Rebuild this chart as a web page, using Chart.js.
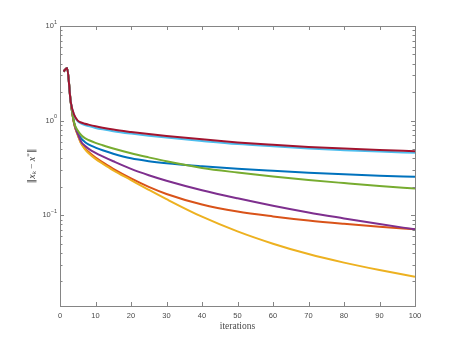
<!DOCTYPE html>
<html>
<head>
<meta charset="utf-8">
<style>
html, body { margin: 0; padding: 0; background: #fff; }
</style>
<script src="https://cdn.jsdelivr.net/npm/chart.js@4/dist/chart.umd.min.js"></script>
</head>
<body>
<canvas id="myChart" width="459" height="344"></canvas>
<script>
var iterations = [1, 2, 3, 4, 5, 6, 7, 8, 10, 12, 15, 20, 25, 30, 40, 50, 60, 70, 80, 90, 100];

var seriesBlue   = [3.3, 3.6, 1.6, 0.94, 0.741, 0.646, 0.596, 0.562, 0.519, 0.486, 0.447, 0.400, 0.373, 0.355, 0.330, 0.310, 0.295, 0.282, 0.271, 0.262, 0.255];
var seriesOrange = [3.3, 3.6, 1.6, 0.923, 0.708, 0.575, 0.513, 0.468, 0.407, 0.363, 0.309, 0.245, 0.1995, 0.168, 0.130, 0.1096, 0.0973, 0.0881, 0.0813, 0.0757, 0.071];
var seriesYellow = [3.3, 3.6, 1.6, 0.923, 0.708, 0.569, 0.501, 0.455, 0.394, 0.351, 0.2985, 0.2355, 0.186, 0.148, 0.0966, 0.0676, 0.0501, 0.0389, 0.0316, 0.0264, 0.0224];
var seriesPurple = [3.3, 3.6, 1.6, 0.933, 0.724, 0.596, 0.543, 0.507, 0.457, 0.419, 0.372, 0.309, 0.265, 0.232, 0.184, 0.151, 0.126, 0.107, 0.0927, 0.0807, 0.071];
var seriesGreen  = [3.3, 3.6, 1.6, 0.951, 0.785, 0.700, 0.653, 0.624, 0.582, 0.550, 0.507, 0.452, 0.409, 0.372, 0.316, 0.283, 0.257, 0.236, 0.219, 0.204, 0.192];
var seriesCyan   = [3.3, 3.6, 1.6, 1.14, 0.982, 0.933, 0.899, 0.875, 0.838, 0.809, 0.773, 0.729, 0.693, 0.662, 0.610, 0.566, 0.535, 0.508, 0.488, 0.471, 0.457];
var seriesRed    = [3.3, 3.6, 1.6, 1.15, 1.0, 0.955, 0.929, 0.908, 0.871, 0.841, 0.804, 0.759, 0.721, 0.689, 0.634, 0.589, 0.556, 0.528, 0.507, 0.490, 0.476];

var xTicks = [0, 10, 20, 30, 40, 50, 60, 70, 80, 90, 100];
var yTickExponents = [-1, 0, 1];

var axisColor = '#858585';
var textColor = '#4a4a4a';
var serif = '"Liberation Serif", "DejaVu Serif", serif';

function pts(vals) {
    return vals.map(function (v, i) { return { x: iterations[i], y: v }; });
}

function line(color, vals) {
    return {
        data: pts(vals),
        borderColor: color,
        backgroundColor: color,
        borderWidth: 2,
        pointRadius: 0,
        fill: false,
        cubicInterpolationMode: 'monotone'
    };
}

// draws pieces of text one after another, centred on 0,0
function drawPieces(ctx, pieces) {
    var total = 0;
    pieces.forEach(function (p) { ctx.font = p.f; p.w = ctx.measureText(p.t).width; total += p.w; });
    var x = -total / 2;
    ctx.textAlign = 'left';
    pieces.forEach(function (p) {
        ctx.font = p.f;
        ctx.fillText(p.t, x, p.dy || 0);
        x += p.w;
    });
}

// box, inward ticks, y labels with superscripts and axis titles
var axesBox = {
    id: 'axesBox',
    afterDraw: function (chart) {
        var ctx = chart.ctx, a = chart.chartArea;
        var xs = chart.scales.x, ys = chart.scales.y;
        ctx.save();
        ctx.strokeStyle = axisColor;
        ctx.lineWidth = 1;
        ctx.strokeRect(Math.round(a.left) + 0.5, Math.round(a.top) + 0.5,
            Math.round(a.right - a.left), Math.round(a.bottom - a.top));

        ctx.beginPath();
        xTicks.forEach(function (v) {
            var px = Math.round(xs.getPixelForValue(v)) + 0.5;
            ctx.moveTo(px, a.bottom); ctx.lineTo(px, a.bottom - 4);
            ctx.moveTo(px, a.top); ctx.lineTo(px, a.top + 4);
        });
        for (var e = -2; e <= 1; e++) {
            for (var m = 1; m <= 9; m++) {
                var v = m * Math.pow(10, e);
                if (v < ys.min || v > ys.max) continue;
                var py = Math.round(ys.getPixelForValue(v)) + 0.5;
                var len = m === 1 ? 4 : 2.5;
                ctx.moveTo(a.left, py); ctx.lineTo(a.left + len, py);
                ctx.moveTo(a.right, py); ctx.lineTo(a.right - len, py);
            }
        }
        ctx.stroke();

        ctx.fillStyle = textColor;
        ctx.textBaseline = 'middle';
        yTickExponents.forEach(function (ex) {
            var py = ys.getPixelForValue(Math.pow(10, ex));
            var sup = String(ex).replace('-', '\u2212');
            ctx.font = '5.5px "Liberation Sans", Arial, sans-serif';
            var sw = ctx.measureText(sup).width;
            ctx.textAlign = 'left';
            ctx.fillText(sup, a.left - 3 - sw, py - 4);
            ctx.font = '7.5px "Liberation Sans", Arial, sans-serif';
            ctx.textAlign = 'right';
            ctx.fillText('10', a.left - 3 - sw, py);
        });

        ctx.font = '9.5px ' + serif;
        ctx.textAlign = 'center';
        ctx.fillText('iterations', (a.left + a.right) / 2, 326);

        ctx.translate(32, (a.top + a.bottom) / 2);
        ctx.rotate(-Math.PI / 2);
        drawPieces(ctx, [
            { t: '\u2016', f: '9.5px "DejaVu Serif", serif' },
            { t: 'x', f: 'italic 10px ' + serif },
            { t: 'k', f: 'italic 7px ' + serif, dy: 2 },
            { t: ' \u2212 ', f: '9.5px ' + serif },
            { t: 'x', f: 'italic 10px ' + serif },
            { t: '*', f: '7px ' + serif, dy: -3 },
            { t: '\u2016', f: '9.5px "DejaVu Serif", serif' }
        ]);
        ctx.restore();
    }
};

var ctx = document.getElementById('myChart').getContext('2d');
var chart = new Chart(ctx, {
    type: 'line',
    data: {
        datasets: [
            line('#A2142F', seriesRed),
            line('#4DBEEE', seriesCyan),
            line('#77AC30', seriesGreen),
            line('#7E2F8E', seriesPurple),
            line('#EDB120', seriesYellow),
            line('#D95319', seriesOrange),
            line('#0072BD', seriesBlue)
        ]
    },
    options: {
        responsive: false,
        animation: false,
        devicePixelRatio: 1,
        layout: { padding: { left: 0, top: 26, right: 44, bottom: 0 } },
        plugins: {
            legend: { display: false },
            tooltip: { enabled: false }
        },
        scales: {
            x: {
                type: 'linear',
                min: 0,
                max: 100,
                grid: { display: false, drawTicks: false },
                border: { display: false },
                ticks: {
                    stepSize: 10,
                    padding: 5,
                    color: textColor,
                    font: { family: '"Liberation Sans", Arial, sans-serif', size: 7.5 },
                    maxRotation: 0
                },
                afterFit: function (s) { s.height = 38; }
            },
            y: {
                type: 'logarithmic',
                min: 0.011,
                max: 10,
                grid: { display: false, drawTicks: false },
                border: { display: false },
                ticks: { display: false },
                afterFit: function (s) { s.width = 60; }
            }
        }
    },
    plugins: [axesBox]
});
</script>
</body>
</html>
